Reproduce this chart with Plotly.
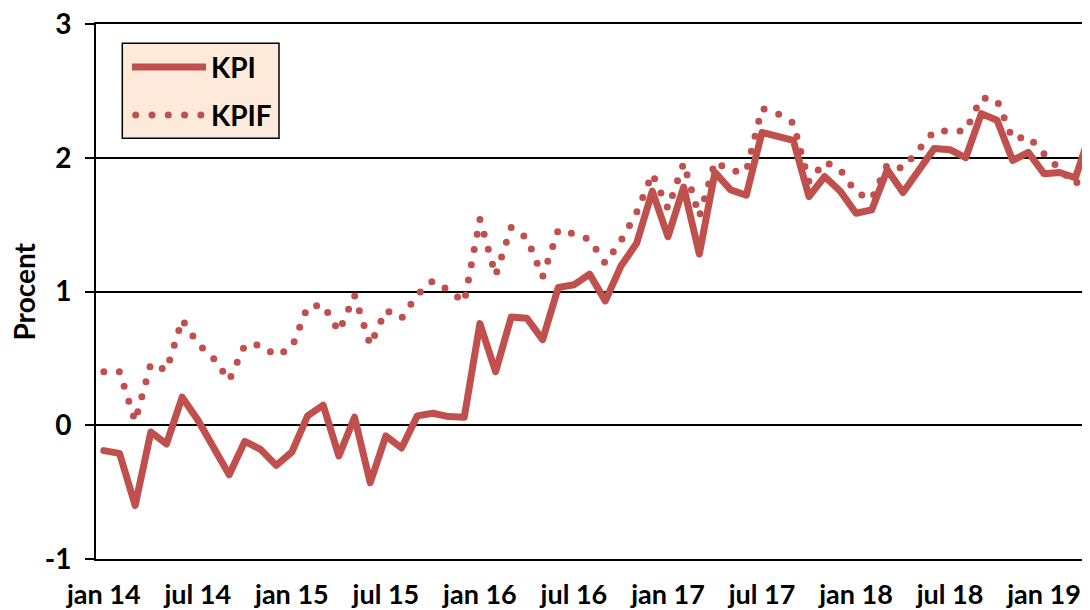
import plotly.graph_objects as go

# ---- data ----
months = ["jan", "feb", "mar", "apr", "maj", "jun", "jul", "aug", "sep", "okt", "nov", "dec"]
categories = [f"{m} {y:02d}" for y in range(14, 20) for m in months][:64]

kpi = [-0.19, -0.21, -0.60, -0.05, -0.14, 0.21, 0.04, -0.16, -0.37, -0.12, -0.18, -0.30,
       -0.20, 0.07, 0.15, -0.23, 0.06, -0.43, -0.08, -0.17, 0.07, 0.09, 0.065, 0.06,
       0.76, 0.40, 0.81, 0.80, 0.64, 1.03, 1.05, 1.13, 0.93, 1.19, 1.36, 1.75,
       1.41, 1.78, 1.28, 1.89, 1.76, 1.72, 2.19, 2.16, 2.13, 1.71, 1.86, 1.75,
       1.585, 1.61, 1.91, 1.74, 1.91, 2.07, 2.06, 2.00, 2.33, 2.28, 1.98, 2.04,
       1.88, 1.89, 1.85, 2.20]

kpif = [0.40, 0.40, 0.03, 0.46, 0.41, 0.79, 0.61, 0.50, 0.335, 0.60, 0.60, 0.52,
        0.58, 0.885, 0.90, 0.70, 0.97, 0.60, 0.86, 0.80, 0.975, 1.08, 1.01, 0.92,
        1.54, 1.12, 1.48, 1.40, 1.11, 1.46, 1.43, 1.39, 1.21, 1.38, 1.59, 1.88,
        1.62, 1.96, 1.56, 1.97, 1.90, 1.90, 2.37, 2.33, 2.26, 1.82, 1.97, 1.91,
        1.74, 1.69, 1.95, 1.92, 2.06, 2.20, 2.20, 2.20, 2.45, 2.43, 2.14, 2.16,
        2.03, 1.91, 1.80, 1.95]

tick_labels = ["jan 14", "jul 14", "jan 15", "jul 15", "jan 16", "jul 16",
               "jan 17", "jul 17", "jan 18", "jul 18", "jan 19"]
y_ticks = [-1, 0, 1, 2, 3]
series_names = ["KPI", "KPIF"]

# ---- style ----
RED = "#C0504D"
FONT = dict(family="Lato, 'Open Sans', sans-serif", size=28, color="black", weight="bold")
XFONT = dict(FONT, size=27)
OFF = 8                      # page body margin
W, H = 1090 - OFF, 610 - OFF  # figure size inside the window
# plot area in window pixels
L, R, T, B = 96, 1090, 24, 559
x = list(range(len(categories)))
xr = [-0.5, (R - L) / 15.67 - 0.5]


def px(v):
    return (v - L) / (R - L)


def py(v):
    return (B - v) / (B - T)


fig = go.Figure()
fig.add_trace(go.Scatter(x=x, y=kpif, name=series_names[1], mode="lines",
                         line=dict(color=RED, width=7, dash="0px,15.5px"),
                         showlegend=False, hoverinfo="skip", cliponaxis=True))
fig.add_trace(go.Scatter(x=x, y=kpi, name=series_names[0], mode="lines",
                         line=dict(color=RED, width=7),
                         showlegend=False, hoverinfo="skip", cliponaxis=True))

shapes = [
    # legend box
    dict(type="rect", xref="paper", yref="paper", x0=px(122.3), x1=px(279), y0=py(138.3), y1=py(43.3),
         fillcolor="#FDEADA", line=dict(color="black", width=1.5), layer="above"),
    dict(type="line", xref="paper", yref="paper", x0=px(132), x1=px(206), y0=py(67), y1=py(67),
         line=dict(color=RED, width=7), layer="above"),
    dict(type="line", xref="paper", yref="paper", x0=px(135.7), x1=px(201.5), y0=py(115), y1=py(115),
         line=dict(color=RED, width=7, dash="0px,16.3px"), layer="above"),
]

annotations = [
    dict(text=series_names[0], xref="paper", yref="paper", x=px(209), y=py(67), xanchor="left",
         yanchor="middle", showarrow=False, font=FONT),
    dict(text=series_names[1], xref="paper", yref="paper", x=px(209), y=py(115), xanchor="left",
         yanchor="middle", showarrow=False, font=FONT),
    dict(text="Procent", xref="paper", yref="paper", x=px(23), y=0.5, xanchor="center",
         yanchor="middle", textangle=-90, showarrow=False, font=FONT),
]

fig.update_layout(
    width=W, height=H,
    margin=dict(l=L - OFF, r=0, t=T - OFF, b=(610 - B), pad=0, autoexpand=False),
    paper_bgcolor="white", plot_bgcolor="white",
    font=FONT,
    showlegend=False,
    shapes=shapes,
    annotations=annotations,
    xaxis=dict(range=xr, tickvals=[0, 6, 12, 18, 24, 30, 36, 42, 48, 54, 60], ticktext=tick_labels,
               ticks="outside", ticklen=11, tickcolor="rgba(0,0,0,0)", showgrid=False,
               zeroline=False, showline=True, mirror=True, linecolor="black", linewidth=2,
               tickfont=XFONT, fixedrange=True, automargin=False, ticklabeloverflow="allow"),
    xaxis2=dict(range=xr, overlaying="x", anchor="free", position=0.25, side="bottom",
                tickvals=[i + 0.5 for i in range(len(categories))], ticks="outside", ticklen=9,
                tickwidth=2, tickcolor="black", showticklabels=False, showgrid=False,
                zeroline=False, showline=False, fixedrange=True, automargin=False),
    yaxis=dict(range=[-1, 3], tickvals=y_ticks, ticktext=[str(v) for v in y_ticks],
               showgrid=True, gridcolor="black", gridwidth=2,
               zeroline=True, zerolinecolor="black", zerolinewidth=2,
               showline=True, linecolor="black", linewidth=2, mirror=False,
               ticks="outside", ticklen=9, tickwidth=2, tickcolor="black",
               ticklabelstandoff=8, tickfont=FONT, fixedrange=True, automargin=False,
               ticklabeloverflow="allow"),
)

post = """
var gd = document.getElementById('{plot_id}');
function fx(){
  gd.querySelectorAll('path').forEach(function(p){
    var d = (p.style.strokeDasharray || p.getAttribute('stroke-dasharray') || '').replace(/\\s/g,'');
    if (d.indexOf('0px,') === 0) { p.style.strokeLinecap = 'round'; }
    if (p.classList.contains('js-line')) { p.style.strokeLinejoin = 'round'; p.style.strokeLinecap = 'round'; }
  });
}
fx();
gd.on('plotly_afterplot', fx);
"""

fig.write_html("out.html", post_script=post, config={"displayModeBar": False})
